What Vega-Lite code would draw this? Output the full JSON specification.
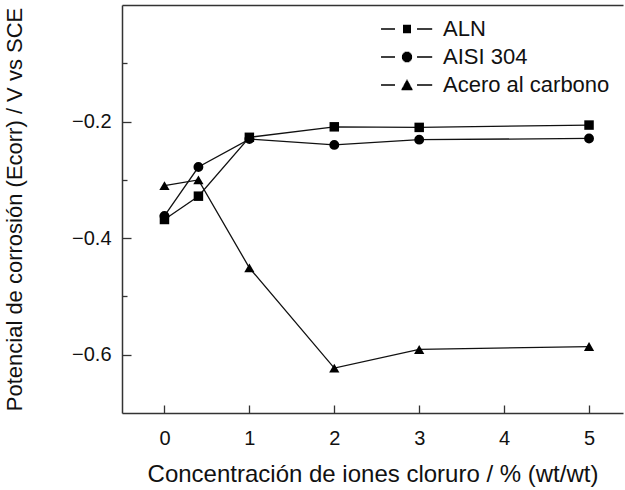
{
  "$schema": "https://vega.github.io/schema/vega-lite/v6.json",
  "width": 501,
  "height": 408,
  "autosize": {"type": "none"},
  "padding": {"left": 122, "top": 5, "right": 2, "bottom": 77},
  "background": "white",
  "config": {
    "view": {"stroke": null},
    "font": "Liberation Sans",
    "axis": {
      "grid": false,
      "domainColor": "#333333",
      "domainWidth": 1.5,
      "tickColor": "#333333",
      "tickWidth": 1.3,
      "labelFont": "Liberation Sans",
      "labelFontSize": 20,
      "labelColor": "#111111",
      "titleFont": "Liberation Sans",
      "titleFontWeight": "normal",
      "titleColor": "#111111"
    },
    "legend": {
      "labelFont": "Liberation Sans",
      "labelFontSize": 22,
      "labelColor": "#111111",
      "padding": 0,
      "rowPadding": 6,
      "labelOffset": 25,
      "labelLimit": 0
    }
  },
  "datasets": {
    "d": [
      {"s": "ALN", "c": 0, "e": -0.368},
      {"s": "ALN", "c": 0.4, "e": -0.328},
      {"s": "ALN", "c": 1, "e": -0.227},
      {"s": "ALN", "c": 2, "e": -0.209},
      {"s": "ALN", "c": 3, "e": -0.210},
      {"s": "ALN", "c": 5, "e": -0.206},
      {"s": "AISI 304", "c": 0, "e": -0.362},
      {"s": "AISI 304", "c": 0.4, "e": -0.278},
      {"s": "AISI 304", "c": 1, "e": -0.230},
      {"s": "AISI 304", "c": 2, "e": -0.240},
      {"s": "AISI 304", "c": 3, "e": -0.231},
      {"s": "AISI 304", "c": 5, "e": -0.229},
      {"s": "Acero al carbono", "c": 0, "e": -0.310},
      {"s": "Acero al carbono", "c": 0.4, "e": -0.300},
      {"s": "Acero al carbono", "c": 1, "e": -0.451},
      {"s": "Acero al carbono", "c": 2, "e": -0.623},
      {"s": "Acero al carbono", "c": 3, "e": -0.591},
      {"s": "Acero al carbono", "c": 5, "e": -0.586}
    ]
  },
  "data": {"name": "d"},
  "resolve": {
    "axis": {"x": "independent", "y": "independent"},
    "scale": {"shape": "independent", "size": "independent"}
  },
  "layer": [
    {
      "mark": {"type": "line", "color": "#111111", "strokeWidth": 1.3},
      "encoding": {
        "x": {
          "field": "c", "type": "quantitative",
          "scale": {"domain": [-0.5, 5.4], "nice": false, "zero": false},
          "axis": {
            "orient": "bottom",
            "values": [0, 1, 2, 3, 4, 5],
            "tickSize": -8,
            "labelPadding": 23,
            "title": "Concentración de iones cloruro / % (wt/wt)",
            "titleFontSize": 24,
            "titlePadding": 14
          }
        },
        "y": {
          "field": "e", "type": "quantitative",
          "scale": {"domain": [-0.7, 0], "nice": false, "zero": false},
          "axis": {
            "orient": "left",
            "values": [-0.6, -0.4, -0.2],
            "format": ".1f",
            "tickSize": -9,
            "labelPadding": 20,
            "title": "Potencial de corrosión (Ecorr) / V vs SCE",
            "titleFontSize": 22,
            "titlePadding": 45
          }
        },
        "detail": {"field": "s"}
      }
    },
    {
      "mark": {"type": "point", "filled": true, "color": "#000000", "opacity": 1},
      "encoding": {
        "x": {"field": "c", "type": "quantitative", "axis": null},
        "y": {"field": "e", "type": "quantitative", "axis": null},
        "shape": {
          "field": "s",
          "scale": {"domain": ["ALN", "AISI 304", "Acero al carbono"], "range": ["square", "circle", "triangle-up"]},
          "legend": null
        },
        "size": {
          "field": "s",
          "scale": {"domain": ["ALN", "AISI 304", "Acero al carbono"], "range": [90, 105, 130]},
          "legend": null
        }
      }
    },
    {
      "transform": [{"filter": "false"}],
      "mark": {"type": "point", "filled": false, "color": "#000000", "strokeWidth": 1.5, "opacity": 1, "size": 144},
      "encoding": {
        "x": {
          "field": "c", "type": "quantitative",
          "axis": {"orient": "top", "ticks": false, "labels": false, "title": null}
        },
        "y": {
          "field": "e", "type": "quantitative",
          "axis": {"orient": "left", "values": [-0.5, -0.3, -0.1], "tickSize": -5, "labels": false, "title": null, "domain": false}
        },
        "shape": {
          "field": "s",
          "scale": {
            "domain": ["ALN", "AISI 304", "Acero al carbono"],
            "range": [
              "M-4.33,0H-2M1.67,0H4.2M-0.67,-0.6H0.67M-0.67,-0.4H0.67M-0.67,-0.2H0.67M-0.67,0H0.67M-0.67,0.2H0.67M-0.67,0.4H0.67M-0.67,0.6H0.67",
              "M-4.33,0H-2M1.67,0H4.2M-0.4,-0.75H0.4M-0.6,-0.6H0.6M-0.75,-0.4H0.75M-0.83,-0.2H0.83M-0.85,0H0.85M-0.83,0.2H0.83M-0.75,0.4H0.75M-0.6,0.6H0.6M-0.4,0.75H0.4",
              "M-4.33,0H-2M1.67,0H4.2M-0.08,-0.8H0.08M-0.19,-0.6H0.19M-0.3,-0.4H0.3M-0.41,-0.2H0.41M-0.52,0H0.52M-0.62,0.2H0.62M-0.73,0.4H0.73M-0.84,0.6H0.84M-0.92,0.75H0.92"
            ]
          },
          "legend": {
            "title": null,
            "orient": "top-right",
            "offset": 13,
            "symbolSize": 144,
            "symbolStrokeWidth": 1.5,
            "symbolStrokeColor": "#000000"
          }
        }
      }
    }
  ]
}
